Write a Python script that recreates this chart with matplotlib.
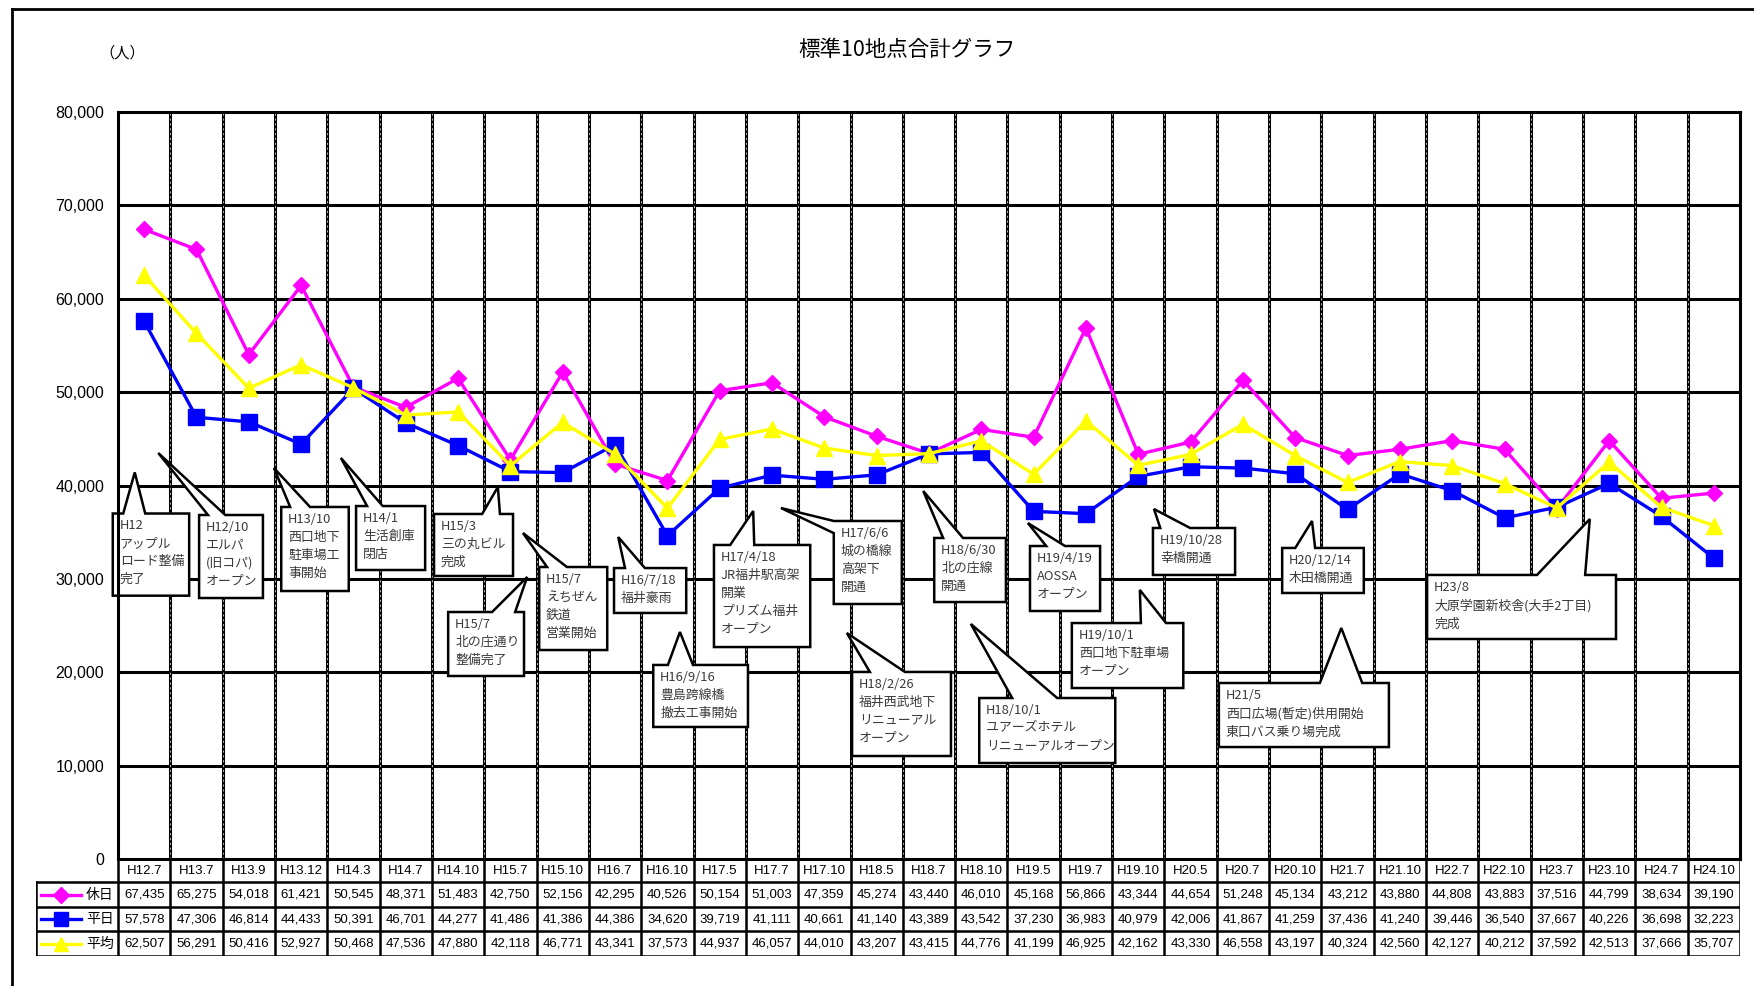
import matplotlib
matplotlib.use('Agg')
import matplotlib.pyplot as plt
from matplotlib.patches import Polygon
from matplotlib.lines import Line2D
from matplotlib.ticker import FuncFormatter

plt.rcParams['font.family'] = ['Noto Sans CJK JP', 'DejaVu Sans']

# データ
periods = ['H12.7', 'H13.7', 'H13.9', 'H13.12', 'H14.3', 'H14.7', 'H14.10', 'H15.7',
           'H15.10', 'H16.7', 'H16.10', 'H17.5', 'H17.7', 'H17.10', 'H18.5', 'H18.7',
           'H18.10', 'H19.5', 'H19.7', 'H19.10', 'H20.5', 'H20.7', 'H20.10', 'H21.7',
           'H21.10', 'H22.7', 'H22.10', 'H23.7', 'H23.10', 'H24.7', 'H24.10']
holiday = [67435, 65275, 54018, 61421, 50545, 48371, 51483, 42750, 52156, 42295, 40526,
           50154, 51003, 47359, 45274, 43440, 46010, 45168, 56866, 43344, 44654, 51248,
           45134, 43212, 43880, 44808, 43883, 37516, 44799, 38634, 39190]
weekday = [57578, 47306, 46814, 44433, 50391, 46701, 44277, 41486, 41386, 44386, 34620,
           39719, 41111, 40661, 41140, 43389, 43542, 37230, 36983, 40979, 42006, 41867,
           41259, 37436, 41240, 39446, 36540, 37667, 40226, 36698, 32223]
average = [62507, 56291, 50416, 52927, 50468, 47536, 47880, 42118, 46771, 43341, 37573,
           44937, 46057, 44010, 43207, 43415, 44776, 41199, 46925, 42162, 43330, 46558,
           43197, 40324, 42560, 42127, 40212, 37592, 42513, 37666, 35707]
series_names = ['休日', '平日', '平均']

# 吹き出し: (テキスト, (x左, x右, y下, y上), 尾の辺, (尾の付け根1, 付け根2), 尾の先)
callouts = [
    ("H12\nアップル\nロード整備\n完了", (-0.6, 0.86, 28200, 37000), 'top', (-0.4, 0.02), (-0.18, 41400)),
    ("H12/10\nエルパ\n(旧コパ)\nオープン", (1.05, 2.27, 27950, 36840), 'top', (1.22, 1.55), (0.27, 43480)),
    ("H13/10\n西口地下\n駐車場工\n事開始", (2.62, 3.91, 28700, 37700), 'top', (2.79, 3.17), (2.48, 41870)),
    ("H14/1\n生活創庫\n閉店", (4.05, 5.37, 30950, 37800), 'top', (4.26, 4.56), (3.76, 42950)),
    ("H15/3\n三の丸ビル\n完成", (5.54, 7.05, 30310, 36950), 'top', (6.46, 6.80), (6.76, 39840)),
    ("H15/7\n北の庄通り\n整備完了", (5.81, 7.26, 19600, 26450), 'top', (6.65, 7.09), (7.32, 30200)),
    ("H15/7\nえちぜん\n鉄道\n営業開始", (7.55, 8.85, 22380, 31270), 'top', (7.70, 8.08), (7.24, 34910)),
    ("H16/7/18\n福井豪雨", (8.98, 10.36, 26350, 31160), 'top', (9.19, 9.57), (9.06, 34480)),
    ("H16/9/16\n豊島跨線橋\n撤去工事開始", (9.73, 11.54, 14140, 20780), 'top', (10.01, 10.49), (10.24, 24310)),
    ("H17/4/18\nJR福井駅高架\n開業\nプリズム福井\nオープン", (10.89, 12.73, 22700, 33630), 'top', (11.20, 11.66), (11.64, 37270)),
    ("H17/6/6\n城の橋線\n高架下\n開通", (13.18, 14.48, 27310, 36200), 'left', (36200, 34900), (12.17, 37590)),
    ("H18/2/26\n福井西武地下\nリニューアル\nオープン", (13.53, 15.42, 11030, 20030), 'top', (13.87, 14.54), (13.43, 24200)),
    ("H18/6/30\n北の庄線\n開通", (15.10, 16.47, 27520, 34380), 'top', (15.27, 15.65), (14.89, 39410)),
    ("H18/10/1\nユアーズホテル\nリニューアルオープン", (15.96, 18.56, 10280, 17240), 'top', (16.59, 17.45), (15.80, 25170)),
    ("H19/4/19\nAOSSA\nオープン", (16.93, 18.27, 26560, 33520), 'top', (17.24, 17.60), (16.89, 35980)),
    ("H19/10/1\n西口地下駐車場\nオープン", (17.73, 19.86, 18310, 25270), 'top', (19.05, 19.53), (19.03, 28810)),
    ("H19/10/28\n幸橋開通", (19.28, 20.85, 30420, 35450), 'top', (19.42, 19.99), (19.30, 37480)),
    ("H20/12/14\n木田橋開通", (21.75, 23.31, 28490, 33310), 'top', (22.00, 22.38), (22.32, 36200)),
    ("H21/5\n西口広場(暫定)供用開始\n東口バス乗り場完成", (20.54, 23.79, 11990, 18850), 'top', (22.47, 23.28), (22.88, 24740)),
    ("H23/8\n大原学園新校舎(大手2丁目)\n完成", (24.52, 28.13, 23560, 30420), 'top', (26.62, 27.54), (27.63, 36410)),
]


def bubble_points(box, edge, base, tip):
    x0, x1, y0, y1 = box
    if edge == 'top':
        return [(x0, y1), (base[0], y1), tip, (base[1], y1), (x1, y1), (x1, y0), (x0, y0)]
    # 左辺
    return [(x0, y1), (x1, y1), (x1, y0), (x0, y0), (x0, base[1]), tip, (x0, base[0])]


W, H = 1754, 986
fig = plt.figure(figsize=(W / 100, H / 100), dpi=100)
fig.patch.set_facecolor('white')

# 外枠
fig.add_artist(Line2D([12 / W, 1], [1 - 9 / H, 1 - 9 / H], color='black', lw=2))
fig.add_artist(Line2D([12 / W, 12 / W], [0, 1 - 9 / H], color='black', lw=2))

n = len(periods)
xs = list(range(n))
ax = fig.add_axes([118 / W, 1 - 859 / H, (1740 - 118) / W, (859 - 112) / H])
ax.set_xlim(-0.5, n - 0.5)
ax.set_ylim(0, 80000)

# グリッド
for v in range(10000, 80000, 10000):
    ax.axhline(v, color='black', lw=2.2, zorder=1)
for k in range(n - 1):
    ax.axvline(k + 0.5, color='black', lw=2.2, zorder=1)
    ax.axvline(k + 0.5, color='white', lw=0.5, ls=(0, (3, 4)), zorder=1.1)
for s in ax.spines.values():
    s.set_linewidth(2.2)
    s.set_color('black')

ax.set_xticks([])
ax.set_yticks(range(0, 80001, 10000))
ax.yaxis.set_major_formatter(FuncFormatter(lambda v, p: f'{int(v):,}'))
ax.tick_params(axis='y', length=0, pad=10)
for lab in ax.get_yticklabels():
    lab.set_fontfamily(['Liberation Sans', 'DejaVu Sans'])
    lab.set_fontsize(11.5)

# 吹き出し
for text, box, edge, base, tip in callouts:
    poly = Polygon(bubble_points(box, edge, base, tip), closed=True, facecolor='white',
                   edgecolor='black', lw=1.8, zorder=2, clip_on=False, joinstyle='miter')
    ax.add_patch(poly)
    ax.annotate(text, xy=(box[0], box[3]), xytext=(5, -4), textcoords='offset points',
                ha='left', va='top', fontsize=9.3, color='#3a3a3a', linespacing=1.5,
                zorder=2.1, annotation_clip=False)

# 折れ線
styles = {'休日': ('#FF00FF', 'D', 8.5), '平日': ('#0000FF', 's', 11), '平均': ('#FFFF00', '^', 11)}
for name, vals in zip(series_names, [holiday, weekday, average]):
    c, m, ms = styles[name]
    ax.plot(xs, vals, color=c, lw=2.4, marker=m, markersize=ms, markerfacecolor=c,
            markeredgecolor=c, zorder=3, clip_on=False)

# タイトル・単位
fig.text(907 / W, 1 - 50 / H, '標準10地点合計グラフ', ha='center', va='center', fontsize=15.5)
fig.text(122 / W, 1 - 53 / H, '（人）', ha='center', va='center', fontsize=11)

# データ表
colw = (1740 - 118) / n
tax = fig.add_axes([36 / W, 1 - 956 / H, (1740 - 36) / W, (956 - 859) / H])
left = -0.5 - (118 - 36) / colw
tax.set_xlim(left, n - 0.5)
tax.set_ylim(97, 0)
tax.axis('off')
rows = [0, 23, 48, 72, 97]
tl = dict(color='black', lw=1.8, solid_capstyle='projecting')
for y in rows[1:]:
    tax.plot([left, n - 0.5], [y, y], **tl)
for k in range(n + 1):
    tax.plot([k - 0.5, k - 0.5], [0, 97], **tl)
tax.plot([left, left], [rows[1], 97], **tl)

num_font = ['Liberation Sans', 'DejaVu Sans']
for i, p in enumerate(periods):
    tax.text(i, (rows[0] + rows[1]) / 2, p, ha='center', va='center', fontsize=9.5, family=num_font)
for r, (name, vals) in enumerate(zip(series_names, [holiday, weekday, average])):
    yc = (rows[r + 1] + rows[r + 2]) / 2
    for i, v in enumerate(vals):
        tax.text(i, yc, f'{v:,}', ha='center', va='center', fontsize=9.5, family=num_font)
    c, m, ms = styles[name]
    lx0 = left + 5 / colw
    lx1 = left + 45 / colw
    tax.plot([lx0, lx1], [yc, yc], color=c, lw=2.4)
    tax.plot([(lx0 + lx1) / 2], [yc], marker=m, color=c, markersize=ms * 0.95)
    tax.text(left + 50 / colw, yc, name, ha='left', va='center', fontsize=10)

fig.savefig('out.png', dpi=100)
